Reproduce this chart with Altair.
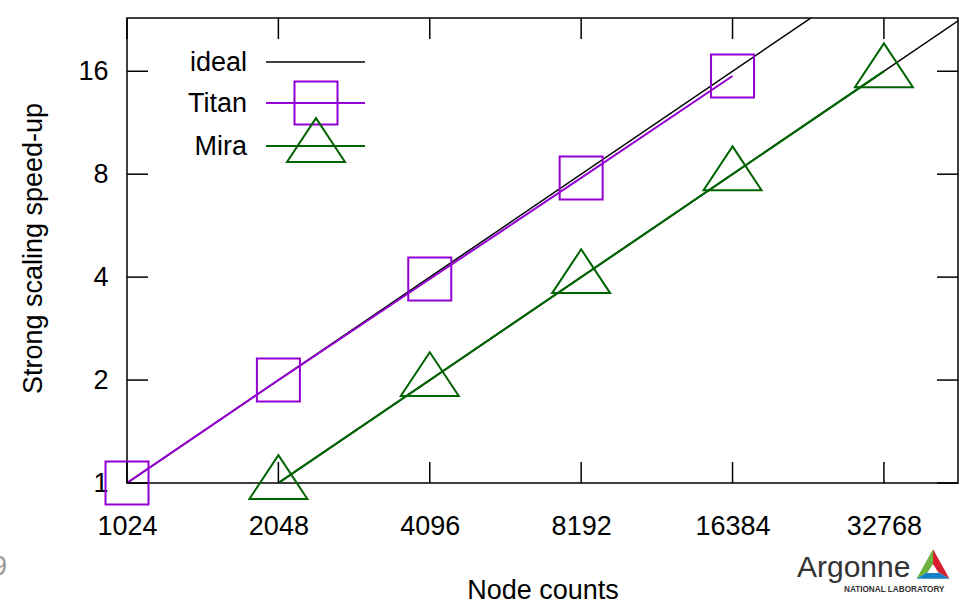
import altair as alt
import pandas as pd

# ---------------- data ----------------
node_ticks = [1024, 2048, 4096, 8192, 16384, 32768]
speedup_ticks = [1, 2, 4, 8, 16]

titan_nodes = [1024, 2048, 4096, 8192, 16384]
titan_speedup = [1.0, 2.0, 3.95, 7.8, 15.5]
mira_nodes = [2048, 4096, 8192, 16384, 32768]
mira_speedup = [1.0, 2.0, 4.0, 8.0, 16.0]

ideal_titan_nodes = [1024, 65536]
ideal_titan_speedup = [1, 64]
ideal_mira_nodes = [2048, 65536]
ideal_mira_speedup = [1, 32]

series_names = ["ideal", "Titan", "Mira"]
series_colors = ["#000000", "#9400D3", "#006400"]

# ---------------- style ----------------
W, H = 831, 465
FONT = "Liberation Sans"
TRI = "M0,-0.96L1,0.55L-1,0.55Z"
SQ_SIZE = 1849
TRI_SIZE = 3364
TICK = 21

x_scale = alt.Scale(type="log", base=2, domain=[1024, 46000], nice=False)
y_scale = alt.Scale(type="log", base=2, domain=[1, 22.9], nice=False)

X = alt.X("x:Q", scale=x_scale,
          axis=alt.Axis(values=node_ticks, format="d", title="Node counts",
                        labelPadding=30, labelFlush=False,
                        titleY=115, titleBaseline="alphabetic"))
Y = alt.Y("y:Q", scale=y_scale,
          axis=alt.Axis(values=speedup_ticks, format="d", title="Strong scaling speed-up",
                        labelPadding=19, labelFlush=False,
                        titleX=-94, titleY=230, titleBaseline="middle"))


def df(xs, ys):
    return pd.DataFrame({"x": xs, "y": ys})


one = alt.Data(values=[{}])
layers = []

# ideal lines
for xs, ys in [(ideal_titan_nodes, ideal_titan_speedup), (ideal_mira_nodes, ideal_mira_speedup)]:
    layers.append(alt.Chart(df(xs, ys)).mark_line(color=series_colors[0], strokeWidth=1.5, clip=True)
                  .encode(x=X, y=Y))

# series lines
layers.append(alt.Chart(df(titan_nodes, titan_speedup)).mark_line(color=series_colors[1], strokeWidth=2, clip=True)
              .encode(x=X, y=Y))
layers.append(alt.Chart(df(mira_nodes, mira_speedup)).mark_line(color=series_colors[2], strokeWidth=2.2, clip=True)
              .encode(x=X, y=Y))
# series markers
layers.append(alt.Chart(df(titan_nodes, titan_speedup)).mark_point(
    shape="square", size=SQ_SIZE, filled=False, strokeWidth=2, color=series_colors[1], opacity=1)
    .encode(x=X, y=Y))
layers.append(alt.Chart(df(mira_nodes, mira_speedup)).mark_point(
    shape=TRI, size=TRI_SIZE, filled=False, strokeWidth=2, color=series_colors[2], opacity=1)
    .encode(x=X, y=Y))

# inward ticks on all four sides
xt = df(node_ticks, [1] * len(node_ticks))
yt = df([1024] * len(speedup_ticks), speedup_ticks)
layers.append(alt.Chart(xt).mark_rule(color="black", strokeWidth=1.5)
              .encode(x=X, y=alt.value(H), y2=alt.value(H - TICK)))
layers.append(alt.Chart(xt).mark_rule(color="black", strokeWidth=1.5)
              .encode(x=X, y=alt.value(0), y2=alt.value(TICK)))
layers.append(alt.Chart(yt).mark_rule(color="black", strokeWidth=1.5)
              .encode(y=Y, x=alt.value(0), x2=alt.value(TICK)))
layers.append(alt.Chart(yt).mark_rule(color="black", strokeWidth=1.5)
              .encode(y=Y, x=alt.value(W), x2=alt.value(W - TICK)))

# legend (gnuplot style, inside top-left)
leg_y = [44, 85, 128]
leg_shapes = [None, ("square", SQ_SIZE), (TRI, TRI_SIZE)]
for name, col, ly, shp in zip(series_names, series_colors, leg_y, leg_shapes):
    layers.append(alt.Chart(one).mark_text(text=name, align="right", baseline="middle",
                                           font=FONT, fontSize=27, color="black")
                  .encode(x=alt.value(120), y=alt.value(ly + 1)))
    layers.append(alt.Chart(one).mark_rule(color=col, strokeWidth=2 if name != "ideal" else 1.5)
                  .encode(x=alt.value(139), x2=alt.value(238), y=alt.value(ly)))
    if shp:
        layers.append(alt.Chart(one).mark_point(shape=shp[0], size=shp[1], filled=False,
                                                strokeWidth=2, color=col, opacity=1)
                      .encode(x=alt.value(189), y=alt.value(ly)))

# slide decorations: page number and Argonne logo
layers.append(alt.Chart(one).mark_text(text="9", align="right", baseline="alphabetic",
                                       font=FONT, fontSize=27, color="#999999")
              .encode(x=alt.value(-120), y=alt.value(557)))
layers.append(alt.Chart(one).mark_text(text="Argonne", align="left", baseline="alphabetic",
                                       font=FONT, fontSize=30, color="#333333")
              .encode(x=alt.value(670), y=alt.value(559)))
layers.append(alt.Chart(one).mark_text(text="NATIONAL LABORATORY", align="left", baseline="alphabetic",
                                       font=FONT, fontSize=8.2, fontWeight="bold", color="#333333")
              .encode(x=alt.value(717), y=alt.value(574)))
logo_parts = [("M0,-0.9L-1,0.9L0,0.3Z", "#6cb33f"),
              ("M0,-0.9L1,0.9L0,0.3Z", "#d6202f"),
              ("M-1,0.9L1,0.9L0,0.3Z", "#1580c5"),
              ("M0,0.0L0.35,0.55L-0.35,0.55Z", "#ffffff")]
for path, col in logo_parts:
    layers.append(alt.Chart(one).mark_point(shape=path, size=1089, filled=True, color=col,
                                            opacity=1, strokeWidth=0)
                  .encode(x=alt.value(806), y=alt.value(546)))

chart = alt.layer(*layers).properties(
    width=W, height=H,
    autosize=alt.AutoSizeParams(type="none"),
    padding={"left": 127, "top": 18, "right": 14, "bottom": 122},
).configure_view(
    stroke="black", strokeWidth=1.5
).configure_axis(
    domain=False, ticks=False, grid=False,
    labelFont=FONT, labelFontSize=27, labelColor="black",
    titleFont=FONT, titleFontSize=27, titleFontWeight="normal", titleColor="black",
)

chart.save("out.html", embed_options={"renderer": "svg", "actions": False})
